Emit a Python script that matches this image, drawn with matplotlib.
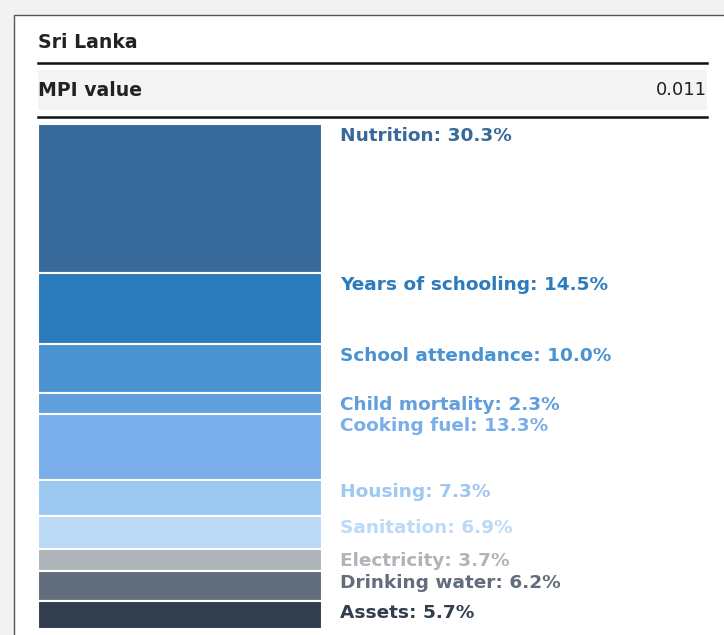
import numpy as np
import matplotlib
matplotlib.use('Agg')
from matplotlib import pyplot as plt
from matplotlib.patches import Rectangle
from matplotlib import transforms

country = 'Sri Lanka'
mpi_value = '0.011'
indicators = ['Nutrition', 'Years of schooling', 'School attendance', 'Child mortality',
              'Cooking fuel', 'Housing', 'Sanitation', 'Electricity', 'Drinking water', 'Assets']
shares = [30.3, 14.5, 10.0, 2.3, 13.3, 7.3, 6.9, 3.7, 6.2, 5.7]
colors = ['#37699b', '#2c7bbd', '#4a92d0', '#609fdc', '#7aaeea',
          '#9cc8f2', '#bcd9f5', '#adb4ba', '#616d7b', '#323d4e']

plt.rcParams['font.family'] = ['DejaVu Sans']

W, H = 724, 635
fig = plt.figure(figsize=(W / 100, H / 100), dpi=100)
fig.patch.set_facecolor('#f2f2f2')

# full-figure axes in pixel coordinates for the card and header
bg = fig.add_axes([0, 0, 1, 1])
bg.set_xlim(0, W)
bg.set_ylim(H, 0)
bg.axis('off')
bg.add_patch(Rectangle((13.5, 14.5), W, H, facecolor='white', edgecolor='#555555', linewidth=1))
bg.text(38, 42, country, fontsize=13.6, fontweight='bold', color='#222222', va='center')
bg.plot([38, 707], [63, 63], color='#111111', linewidth=1.8)
bg.add_patch(Rectangle((38, 70), 669, 40, facecolor='#f4f4f4', edgecolor='none'))
bg.text(38, 90, 'MPI value', fontsize=13.6, fontweight='bold', color='#222222', va='center')
bg.text(707, 90, mpi_value, fontsize=13, color='#222222', va='center', ha='right')
bg.plot([38, 707], [117, 117], color='#111111', linewidth=1.8)

# stacked bar
x0, x1, y0, y1 = 38, 322, 124, 629
ax = fig.add_axes([x0 / W, 1 - y1 / H, (x1 - x0) / W, (y1 - y0) / H])
heights = np.maximum(np.array(shares), 4.3)  # small segments get a minimum height
bottoms = np.concatenate([[0], np.cumsum(heights)[:-1]])
ax.bar(0.5, heights, width=1, bottom=bottoms, color=colors, edgecolor='white', linewidth=1.5)
ax.set_xlim(0, 1)
ax.set_ylim(heights.sum(), 0)
ax.axis('off')

trans = transforms.blended_transform_factory(ax.transAxes, ax.transData)
for name, val, b, c in zip(indicators, shares, bottoms, colors):
    ax.annotate('{}: {:.1f}%'.format(name, val), xy=(1, b), xycoords=trans,
                xytext=(18, -12), textcoords='offset pixels', va='center', ha='left',
                fontsize=13.3, fontweight='bold', color=c, annotation_clip=False)

plt.savefig('out.png', dpi=100, facecolor=fig.get_facecolor())
